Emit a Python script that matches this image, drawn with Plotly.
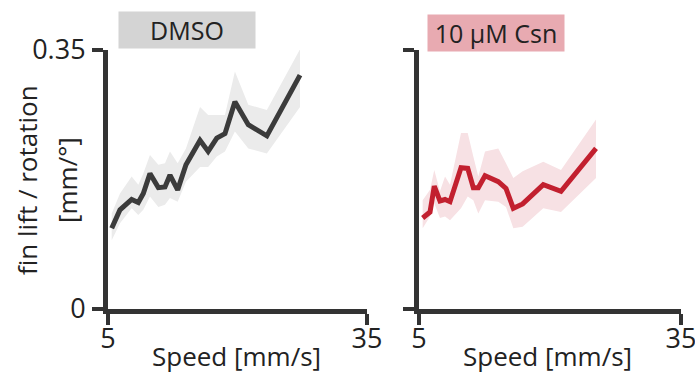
import plotly.graph_objects as go

# ---- data ----
dmso_speed = [5.43, 6.39, 7.74, 8.51, 9.09, 9.86, 10.83, 11.6, 12.18, 13.07, 14.03,
              15.66, 16.6, 17.6, 18.55, 19.7, 21.25, 23.4, 27.24]
dmso_mean = [0.109, 0.134, 0.148, 0.144, 0.156, 0.183, 0.164, 0.165, 0.181, 0.161, 0.195,
             0.228, 0.213, 0.231, 0.237, 0.280, 0.249, 0.234, 0.316]
dmso_upper = [0.129, 0.156, 0.179, 0.168, 0.183, 0.208, 0.195, 0.197, 0.213, 0.197, 0.217,
              0.273, 0.262, 0.262, 0.262, 0.321, 0.276, 0.269, 0.351]
dmso_lower = [0.093, 0.116, 0.136, 0.127, 0.134, 0.152, 0.138, 0.141, 0.150, 0.145, 0.172,
              0.192, 0.192, 0.206, 0.213, 0.240, 0.217, 0.210, 0.273]

csn_speed = [5.42, 6.26, 6.75, 7.4, 7.98, 8.55, 9.81, 10.58, 11.22, 11.79, 12.56,
             14.08, 14.96, 15.8, 16.87, 19.23, 21.26, 25.27]
csn_mean = [0.123, 0.131, 0.166, 0.146, 0.148, 0.145, 0.191, 0.190, 0.164, 0.164, 0.180,
            0.172, 0.163, 0.136, 0.142, 0.168, 0.159, 0.217]
csn_upper = [0.147, 0.161, 0.188, 0.159, 0.179, 0.168, 0.238, 0.238, 0.206, 0.179, 0.213,
             0.217, 0.197, 0.177, 0.186, 0.199, 0.188, 0.256]
csn_lower = [0.109, 0.125, 0.143, 0.123, 0.125, 0.120, 0.136, 0.152, 0.147, 0.129, 0.147,
             0.145, 0.138, 0.109, 0.111, 0.136, 0.131, 0.177]

panel_titles = ["DMSO", "10 µM Csn"]
x_ticks = [5, 35]
y_ticks = [0, 0.35]
y_ticktext = ["0", "0.35"]
x_title = "Speed [mm/s]"
y_title_lines = ["fin lift / rotation", "[mm/°]"]

FONT = "Open Sans"
AX = "#333333"
TXT = "#222222"
W, H = 695, 373

fig = go.Figure()

def add_panel(xs, m, up, lo, line_col, band_col, xa, ya):
    fig.add_trace(go.Scatter(x=xs + xs[::-1], y=up + lo[::-1], fill="toself",
                             fillcolor=band_col, line=dict(width=0), mode="lines",
                             hoverinfo="skip", showlegend=False, xaxis=xa, yaxis=ya))
    fig.add_trace(go.Scatter(x=xs, y=m, mode="lines",
                             line=dict(color=line_col, width=5),
                             showlegend=False, xaxis=xa, yaxis=ya))

add_panel(dmso_speed, dmso_mean, dmso_upper, dmso_lower, "#3b3b3b", "#ebebeb", "x", "y")
add_panel(csn_speed, csn_mean, csn_upper, csn_lower, "#c2202f", "#f7e1e4", "x2", "y2")

ydom = [(H - 309) / H, (H - 50) / H]
xdom1 = [108 / W, 367 / W]
xdom2 = [419 / W, 681 / W]

xcommon = dict(range=[5, 35], tickvals=x_ticks, ticks="outside", ticklen=11, tickwidth=4,
               tickcolor=AX, showline=True, linecolor=AX, linewidth=5, showgrid=False,
               zeroline=False, automargin=False, ticklabelstandoff=-9,
               ticklabeloverflow="allow",
               tickfont=dict(family=FONT, size=27, color=TXT))
ycommon = dict(range=[0, 0.35], tickvals=y_ticks, ticks="outside", ticklen=11, tickwidth=4,
               tickcolor=AX, showline=True, linecolor=AX, linewidth=5, showgrid=False,
               zeroline=False, automargin=False, ticklabelstandoff=1,
               ticklabeloverflow="allow",
               tickfont=dict(family=FONT, size=27, color=TXT))

fig.update_layout(
    template="none",
    width=W, height=H, margin=dict(l=0, r=0, t=0, b=0, pad=0),
    paper_bgcolor="white", plot_bgcolor="white",
    xaxis=dict(domain=xdom1, anchor="y", **xcommon),
    xaxis2=dict(domain=xdom2, anchor="y2", **xcommon),
    yaxis=dict(domain=ydom, anchor="x", ticktext=y_ticktext, **ycommon),
    yaxis2=dict(domain=ydom, anchor="x2", showticklabels=False, **ycommon),
)

def pa(text, cx, cy, **kw):
    d = dict(text=text, x=cx / W, y=1 - cy / H, xref="paper", yref="paper",
             xanchor="center", yanchor="middle", showarrow=False,
             font=dict(family=FONT, size=kw.pop("size", 21), color=TXT))
    d.update(kw)
    return d

ann = [
    pa(panel_titles[0], 187, 30, bgcolor="#d4d4d4", width=134, height=34, size=25),
    pa(panel_titles[1], 496, 33.5, bgcolor="#e8aab1", width=134, height=34, size=25),
    pa(x_title, 237, 356, size=26),
    pa(x_title, 547, 356, size=26),
    pa(y_title_lines[0], 27, 180, textangle=-90, size=26),
    pa(y_title_lines[1], 67, 180, textangle=-90, size=26),
]
fig.update_layout(annotations=ann)

fig.write_html("out.html", config={"displayModeBar": False},
               post_script="document.body.style.margin='0px';document.body.style.padding='0px';")
